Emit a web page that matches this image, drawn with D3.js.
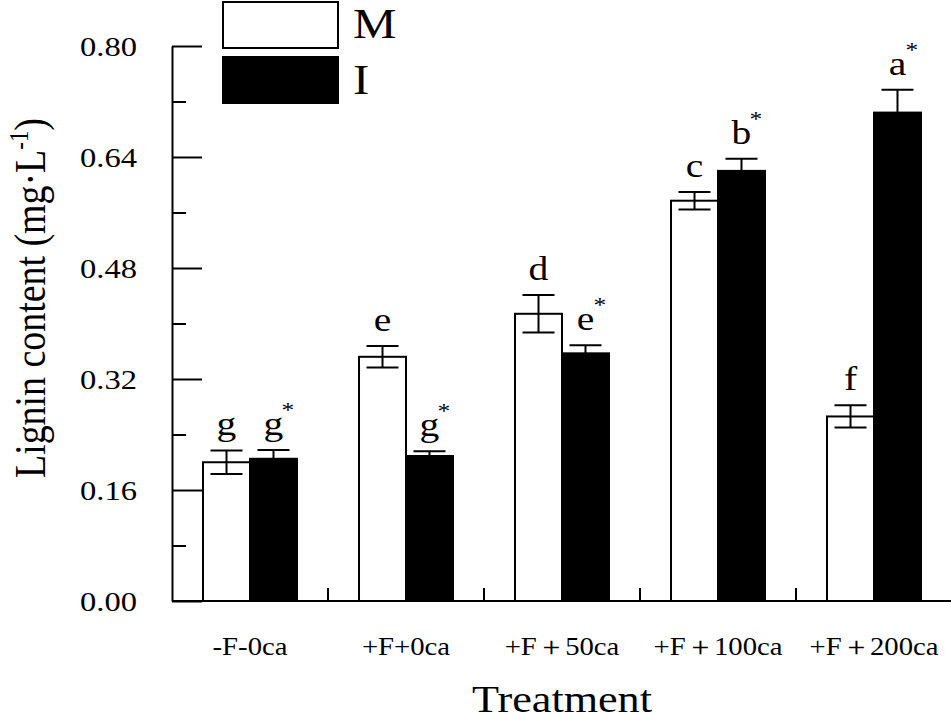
<!DOCTYPE html>
<html>
<head>
<meta charset="utf-8">
<script src="https://cdn.jsdelivr.net/npm/d3@7"></script>
<style>
  body { margin: 0; background: #fff; }
  svg { display: block; }
  text { fill: #000; }
</style>
</head>
<body>
<div id="chart"></div>
<script>
// data
const categories = ["-F-0ca", "+F+0ca", "+F\uFF0B50ca", "+F\uFF0B100ca", "+F\uFF0B200ca"];
const series = ["M", "I"];
const mValues = [0.200, 0.352, 0.414, 0.577, 0.266];
const mErrors = [0.017, 0.0155, 0.027, 0.0125, 0.016];
const iValues = [0.205, 0.209, 0.357, 0.620, 0.704];
const iErrors = [0.0125, 0.007, 0.0115, 0.0173, 0.033];
const mLetters = ["g", "e", "d", "c", "f"];
const iLetters = ["g", "g", "e", "b", "a"];
const majorTicks = [0, 0.16, 0.32, 0.48, 0.64, 0.80];
const minorTicks = [0.08, 0.24, 0.40, 0.56, 0.72];

const width = 951, height = 723;

// pick a Times-like serif that is actually installed
function hasFont(name) {
    const ctx = document.createElement("canvas").getContext("2d");
    const probe = "abcdefghijklmnopqrstuvwxyz0123456789MW";
    let differs = false;
    ["monospace", "sans-serif"].forEach(base => {
        ctx.font = "40px " + base;
        const w0 = ctx.measureText(probe).width;
        ctx.font = `40px "${name}", ${base}`;
        if (ctx.measureText(probe).width !== w0) differs = true;
    });
    return differs;
}
const fontFamily = ["Liberation Serif", "Times New Roman", "Tinos", "Nimbus Roman", "FreeSerif", "DejaVu Serif"]
    .find(hasFont) || "serif";

const svg = d3.select("#chart").append("svg")
    .attr("width", width)
    .attr("height", height)
    .style("font-family", `"${fontFamily}", serif`);

// the figure's text is wider than normal; work out the stretch from "Treatment" (~180px wide at 38px)
const probe = svg.append("text").style("font-size", "38px").text("Treatment");
const stretch = Math.max(0.8, Math.min(1.4, 180 / probe.node().getComputedTextLength()));
probe.remove();

const x = d3.scaleBand()
    .domain(categories)
    .range([172, 952])
    .paddingInner(0)
    .paddingOuter(0);

const xSub = d3.scaleBand()
    .domain(series)
    .range([0, x.bandwidth()])
    .paddingOuter(0.66);

const y = d3.scaleLinear()
    .domain([0, 0.8])
    .range([601, 46]);

// build rows for bars
const rows = [];
categories.forEach((c, i) => {
    rows.push({cat: c, s: "M", v: mValues[i], e: mErrors[i], letter: mLetters[i], star: false});
    rows.push({cat: c, s: "I", v: iValues[i], e: iErrors[i], letter: iLetters[i], star: true});
});

// y axis (ticks point inward)
const yAxis = svg.append("g")
    .attr("transform", "translate(172,0)")
    .call(d3.axisLeft(y)
        .tickValues(majorTicks)
        .tickSizeInner(-30)
        .tickSizeOuter(0)
        .tickPadding(0)
        .tickFormat(d3.format(".2f")));
yAxis.attr("font-family", null);
yAxis.select(".domain").attr("stroke", "#000").attr("stroke-width", 2);
yAxis.selectAll(".tick line").attr("stroke", "#000").attr("stroke-width", 2);
yAxis.selectAll(".tick text")
    .attr("x", -35 / stretch)
    .attr("dy", "0.35em")
    .attr("transform", `scale(${stretch},1)`)
    .style("font-size", "28px");

const yMinor = svg.append("g")
    .attr("transform", "translate(172,0)")
    .call(d3.axisLeft(y)
        .tickValues(minorTicks)
        .tickSizeInner(-14)
        .tickSizeOuter(0)
        .tickFormat(""));
yMinor.select(".domain").remove();
yMinor.selectAll(".tick line").attr("stroke", "#000").attr("stroke-width", 2);

// bars
svg.selectAll("rect.bar")
    .data(rows)
    .enter().append("rect")
    .attr("class", "bar")
    .attr("x", d => x(d.cat) + xSub(d.s))
    .attr("y", d => y(d.v))
    .attr("width", xSub.bandwidth())
    .attr("height", d => y(0) - y(d.v))
    .attr("fill", d => d.s === "M" ? "#fff" : "#000")
    .attr("stroke", "#000")
    .attr("stroke-width", 2);

// error bars
const cap = 32;
const cx = d => x(d.cat) + xSub(d.s) + xSub.bandwidth() / 2;
const err = svg.selectAll("g.err")
    .data(rows)
    .enter().append("g")
    .attr("class", "err")
    .attr("stroke", "#000")
    .attr("stroke-width", 2);
err.append("line")
    .attr("x1", cx).attr("x2", cx)
    .attr("y1", d => y(d.v + d.e))
    .attr("y2", d => y(d.v - d.e));
err.append("line")
    .attr("x1", d => cx(d) - cap / 2)
    .attr("x2", d => cx(d) + cap / 2)
    .attr("y1", d => y(d.v + d.e))
    .attr("y2", d => y(d.v + d.e));
err.append("line")
    .attr("x1", d => cx(d) - cap / 2)
    .attr("x2", d => cx(d) + cap / 2)
    .attr("y1", d => y(d.v - d.e))
    .attr("y2", d => y(d.v - d.e));

// significance letters
const letters = svg.selectAll("g.letter")
    .data(rows)
    .enter().append("g")
    .attr("class", "letter")
    .attr("transform", d => `translate(${cx(d)},${y(d.v + d.e) - 15}) scale(${stretch},1)`);
letters.append("text")
    .attr("text-anchor", "middle")
    .style("font-size", "34px")
    .text(d => d.letter);
letters.filter(d => d.star).append("text")
    .attr("x", 7)
    .attr("y", -18)
    .style("font-size", "22px")
    .text("*");

// x axis line and separators
svg.append("line")
    .attr("x1", 172).attr("x2", width)
    .attr("y1", y(0)).attr("y2", y(0))
    .attr("stroke", "#000").attr("stroke-width", 2);

svg.selectAll("line.sep")
    .data(categories.slice(1))
    .enter().append("line")
    .attr("class", "sep")
    .attr("x1", d => x(d)).attr("x2", d => x(d))
    .attr("y1", y(0)).attr("y2", y(0) - 13)
    .attr("stroke", "#000").attr("stroke-width", 2);

// category labels
svg.selectAll("text.cat")
    .data(categories)
    .enter().append("text")
    .attr("class", "cat")
    .attr("text-anchor", "middle")
    .attr("transform", d => `translate(${x(d) + x.bandwidth() / 2},655) scale(${stretch * 0.95},1)`)
    .style("font-size", "26px")
    .text(d => d);

// axis titles
svg.append("text")
    .attr("text-anchor", "middle")
    .attr("transform", `translate(562,712) scale(${stretch},1)`)
    .style("font-size", "38px")
    .text("Treatment");

const yTitle = svg.append("text")
    .attr("text-anchor", "middle")
    .attr("transform", `translate(45,298) scale(1.18,1) rotate(-90)`)
    .style("font-size", "38px");
yTitle.append("tspan").text("Lignin content (mg\u00B7L");
yTitle.append("tspan").attr("dy", -14).style("font-size", "23px").text("-1");
yTitle.append("tspan").attr("dy", 14).text(")");
// keep the rotated title at ~360px long whatever the font
const tLen = yTitle.node().getComputedTextLength();
if (tLen > 0) {
    yTitle.attr("textLength", 360).attr("lengthAdjust", "spacingAndGlyphs");
}

// legend
const legend = svg.append("g");
legend.selectAll("rect")
    .data(series)
    .enter().append("rect")
    .attr("x", 223)
    .attr("y", (d, i) => 2 + i * 55)
    .attr("width", 115)
    .attr("height", 46)
    .attr("fill", d => d === "M" ? "#fff" : "#000")
    .attr("stroke", "#000")
    .attr("stroke-width", 2);
legend.selectAll("text")
    .data(series)
    .enter().append("text")
    .attr("transform", (d, i) => `translate(353,${38 + i * 56}) scale(${stretch},1)`)
    .style("font-size", "42px")
    .text(d => d);
</script>
</body>
</html>
